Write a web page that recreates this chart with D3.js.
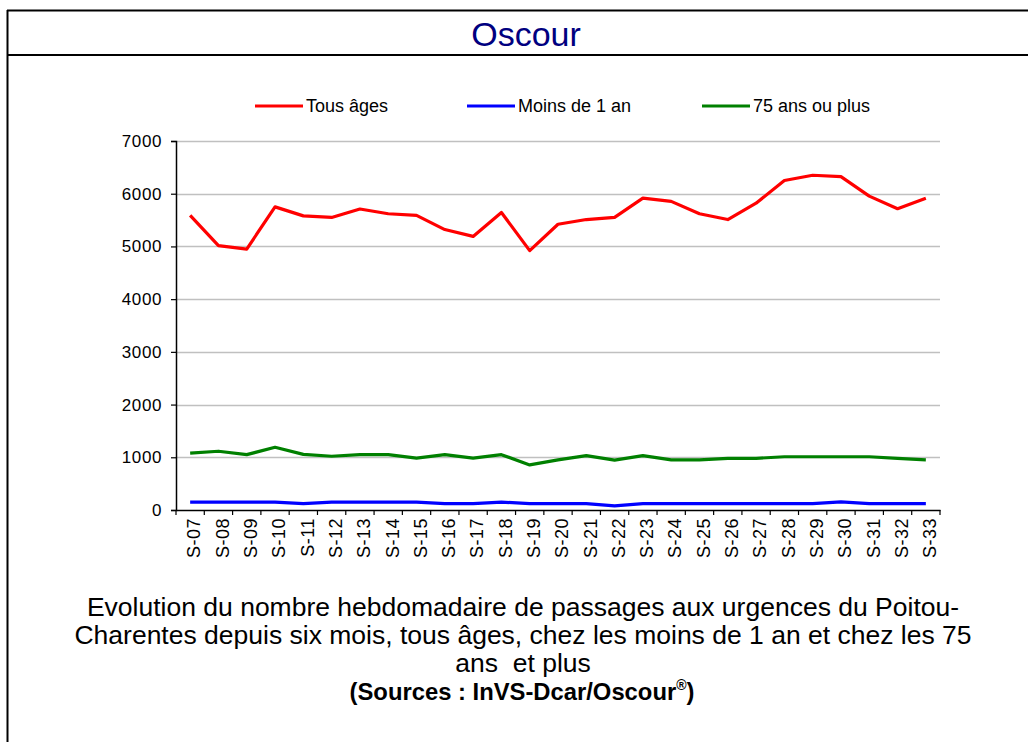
<!DOCTYPE html>
<html><head><meta charset="utf-8">
<script src="https://cdn.jsdelivr.net/npm/d3@7"></script>
<style>
html,body{margin:0;padding:0;background:#fff;}
svg{display:block;font-family:"Liberation Sans",Arial,sans-serif;}
</style></head>
<body>
<svg id="chart" width="1028" height="742"></svg>
<script>
const weeks = ["S-07","S-08","S-09","S-10","S-11","S-12","S-13","S-14","S-15","S-16","S-17","S-18","S-19","S-20","S-21","S-22","S-23","S-24","S-25","S-26","S-27","S-28","S-29","S-30","S-31","S-32","S-33"];
const tousAges = [5590,5015,4950,5750,5580,5550,5710,5620,5590,5320,5190,5645,4920,5420,5510,5550,5915,5855,5620,5510,5820,6250,6350,6325,5955,5715,5915];
const moins1an = [150,150,150,150,120,150,150,150,150,120,120,150,120,120,120,80,120,120,120,120,120,120,120,155,120,120,120];
const plus75 = [1080,1115,1050,1190,1055,1020,1050,1050,985,1050,985,1050,855,950,1030,945,1030,950,950,980,980,1010,1010,1010,1010,980,950];
const yTicks = [0,1000,2000,3000,4000,5000,6000,7000];
const seriesNames = ["Tous âges","Moins de 1 an","75 ans ou plus"];
const seriesColors = ["#ff0000","#0000ff","#008000"];
const title = "Oscour";
const captionLines = ["Evolution du nombre hebdomadaire de passages aux urgences du Poitou-","Charentes depuis six mois, tous âges, chez les moins de 1 an et chez les 75","ans  et plus"];

const svg = d3.select("#chart");
const FONT = "Liberation Sans, Arial, sans-serif";

// frame
svg.append("line").attr("x1",7.5).attr("x2",7.5).attr("y1",10).attr("y2",742).attr("stroke","#000").attr("stroke-width",2);
svg.append("line").attr("x1",7).attr("x2",1028).attr("y1",10.5).attr("y2",10.5).attr("stroke","#000").attr("stroke-width",2);
svg.append("line").attr("x1",7).attr("x2",1028).attr("y1",55).attr("y2",55).attr("stroke","#000").attr("stroke-width",2);
svg.append("text").attr("x",526).attr("y",46).attr("text-anchor","middle").attr("font-size",34).attr("fill","#000080").text(title);

const m = {left:176, right:940, top:141, bottom:510};
const x = d3.scaleBand().domain(weeks).range([m.left,m.right]);
const y = d3.scaleLinear().domain([0,7000]).range([m.bottom,m.top]);

// grid
svg.append("g").selectAll("line").data(yTicks.filter(d=>d>0)).join("line")
  .attr("x1",m.left).attr("x2",m.right).attr("y1",d=>Math.round(y(d))+0.5).attr("y2",d=>Math.round(y(d))+0.5)
  .attr("stroke","#c0c0c0").attr("stroke-width",1.5);

// y axis
const yAxis = svg.append("g").attr("transform",`translate(${m.left},0)`)
  .call(d3.axisLeft(y).tickValues(yTicks).tickSize(5).tickPadding(9).tickFormat(d3.format("d")));
yAxis.select(".domain").attr("stroke","#000").attr("stroke-width",1.5);
yAxis.selectAll(".tick line").attr("stroke","#000").attr("stroke-width",1.2);
yAxis.selectAll("text").attr("font-size",17).attr("fill","#000").attr("font-family",FONT)
  .style("letter-spacing","0.6px");

// x axis
const xAxis = svg.append("g").attr("transform",`translate(0,${m.bottom})`)
  .call(d3.axisBottom(x).tickSize(0).tickPadding(0));
xAxis.select(".domain").attr("stroke","#000").attr("stroke-width",1.5);
xAxis.selectAll("text").attr("font-size",18).attr("fill","#000").attr("font-family",FONT)
  .attr("transform","translate(4,0) rotate(-90)").attr("text-anchor","end").attr("dy","0.35em").attr("x",-8).attr("y",0)
  .style("letter-spacing","0.5px");
// category boundary ticks
const bounds = weeks.map(w=>x(w)).concat([x(weeks[weeks.length-1])+x.bandwidth()]);
svg.append("g").selectAll("line").data(bounds).join("line")
  .attr("x1",d=>d).attr("x2",d=>d).attr("y1",m.bottom).attr("y2",m.bottom+5)
  .attr("stroke","#000").attr("stroke-width",1.2);

// lines
const data = [tousAges, moins1an, plus75];
const line = d3.line().x((d,i)=>x(weeks[i])+x.bandwidth()/2).y(d=>y(d));
data.forEach((s,k)=>{
  svg.append("path").datum(s).attr("d",line).attr("fill","none")
    .attr("stroke",seriesColors[k]).attr("stroke-width",3.2).attr("stroke-linejoin","round");
});

// legend
const legX = [255,467,702];
seriesNames.forEach((n,k)=>{
  svg.append("line").attr("x1",legX[k]).attr("x2",legX[k]+48).attr("y1",106).attr("y2",106)
    .attr("stroke",seriesColors[k]).attr("stroke-width",3);
  svg.append("text").attr("x",legX[k]+51).attr("y",112).attr("font-size",18).attr("fill","#000").text(n);
});

// caption
captionLines.forEach((t,i)=>{
  svg.append("text").attr("x",523).attr("y",616+i*28).attr("text-anchor","middle")
    .attr("font-size",26.5).attr("fill","#000").style("white-space","pre").text(t);
});
const src = svg.append("text").attr("x",522).attr("y",700).attr("text-anchor","middle")
  .attr("font-size",23.8).attr("font-weight","bold").attr("fill","#000");
src.append("tspan").text("(Sources : InVS-Dcar/Oscour");
src.append("tspan").attr("font-size",14).attr("dy",-10).text("®");
src.append("tspan").attr("dy",10).text(")");
</script>
</body></html>
